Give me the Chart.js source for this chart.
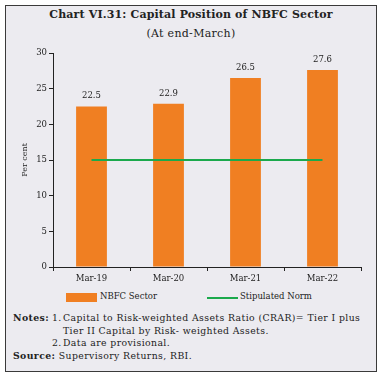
<!DOCTYPE html>
<html>
<head>
<meta charset="utf-8">
<script src="https://cdn.jsdelivr.net/npm/chart.js@4.4.0/dist/chart.umd.min.js"></script>
<style>
  html, body { margin:0; padding:0; background:#fff; }
  body { width:382px; height:383px; position:relative; overflow:hidden; font-family:"DejaVu Serif", serif; color:#222; }
  #box { position:absolute; left:5px; top:5px; width:370px; height:365px; border:1.5px solid #3a3a3a; background:#ECEBF0; }
  #title { position:absolute; left:0; width:382px; top:8px; text-align:center; font-weight:bold; font-size:11px; letter-spacing:0.15px; color:#222; }
  #subtitle { position:absolute; left:0; width:382px; top:27px; text-align:center; font-size:11px; letter-spacing:0.3px; color:#222; }
  #wrap { position:absolute; left:0; top:40px; width:382px; height:250px; }
  .leg { position:absolute; font-size:8.5px; top:291px; color:#222; }
  .nl { position:absolute; font-size:9.3px; letter-spacing:0.4px; color:#222; white-space:nowrap; line-height:12px; }
  .w1 { display:inline-block; width:39px; }
  .w2 { display:inline-block; width:11px; }
  b { font-weight:bold; }
</style>
</head>
<body>
<div id="box"></div>
<div id="title">Chart VI.31: Capital Position of NBFC Sector</div>
<div id="subtitle">(At end-March)</div>
<div id="wrap"><canvas id="c" width="382" height="250"></canvas></div>
<div style="position:absolute;left:66px;top:293px;width:31px;height:9px;background:#F07F22;"></div>
<div class="leg" style="left:100px;">NBFC Sector</div>
<div style="position:absolute;left:207px;top:297px;width:31px;height:2px;background:#1BA94C;"></div>
<div class="leg" style="left:240px;">Stipulated Norm</div>
<div class="nl" style="left:13px;top:312px;"><span class="w1"><b>Notes:</b></span><span class="w2">1.</span>Capital to Risk-weighted Assets Ratio (CRAR)= Tier I plus</div>
<div class="nl" style="left:63px;top:324.5px;">Tier II Capital by Risk- weighted Assets.</div>
<div class="nl" style="left:52px;top:337px;"><span class="w2">2.</span>Data are provisional.</div>
<div class="nl" style="left:13px;top:349.5px;"><b>Source:</b> Supervisory Returns, RBI.</div>
<script>
const categories = ["Mar-19", "Mar-20", "Mar-21", "Mar-22"];
const nbfcValues = [22.5, 22.9, 26.5, 27.6];
const normValues = [15, 15, 15, 15];
const yTicks = [0, 5, 10, 15, 20, 25, 30];

const labelPlugin = {
  id: 'barLabels',
  afterDatasetsDraw(chart) {
    const ctx = chart.ctx;
    const meta = chart.getDatasetMeta(1);
    ctx.save();
    ctx.font = '8.5px "DejaVu Serif"';
    ctx.fillStyle = '#222';
    ctx.textAlign = 'center';
    ctx.textBaseline = 'bottom';
    meta.data.forEach((el, i) => {
      ctx.fillText(nbfcValues[i].toFixed(1), el.x, el.y - 6);
    });
    ctx.restore();
  }
};

new Chart(document.getElementById('c'), {
  data: {
    labels: categories,
    datasets: [
      { type: 'line', label: 'Stipulated Norm', data: normValues, borderColor: '#1BA94C', borderWidth: 2, pointRadius: 0, order: 0 },
      { type: 'bar', label: 'NBFC Sector', data: nbfcValues, backgroundColor: '#F07F22', categoryPercentage: 1, barPercentage: 0.4, order: 1 }
    ]
  },
  options: {
    responsive: false,
    animation: false,
    layout: { padding: { left: 0, right: 21, top: 13, bottom: 0 } },
    plugins: { legend: { display: false }, tooltip: { enabled: false } },
    scales: {
      x: {
        offset: true,
        grid: { offset: true, drawOnChartArea: false, drawTicks: true, tickLength: 4, color: '#222' },
        border: { color: '#222', width: 1 },
        ticks: { font: { family: 'DejaVu Serif', size: 8.5 }, color: '#222', padding: 3 },
        afterFit(s) { s.height = 23; }
      },
      y: {
        min: 0, max: 30,
        afterBuildTicks(s) { s.ticks = yTicks.map(v => ({ value: v })); },
        grid: { drawOnChartArea: false, drawTicks: true, tickLength: 4, color: '#222' },
        border: { color: '#222', width: 1 },
        ticks: { font: { family: 'DejaVu Serif', size: 8.5 }, color: '#222', padding: 2 },
        title: { display: true, text: 'Per cent', font: { family: 'DejaVu Serif', size: 8 }, color: '#222', padding: { top: 20, bottom: 0 } },
        afterFit(s) { s.width = 53; }
      }
    }
  },
  plugins: [labelPlugin]
});
</script>
</body>
</html>
